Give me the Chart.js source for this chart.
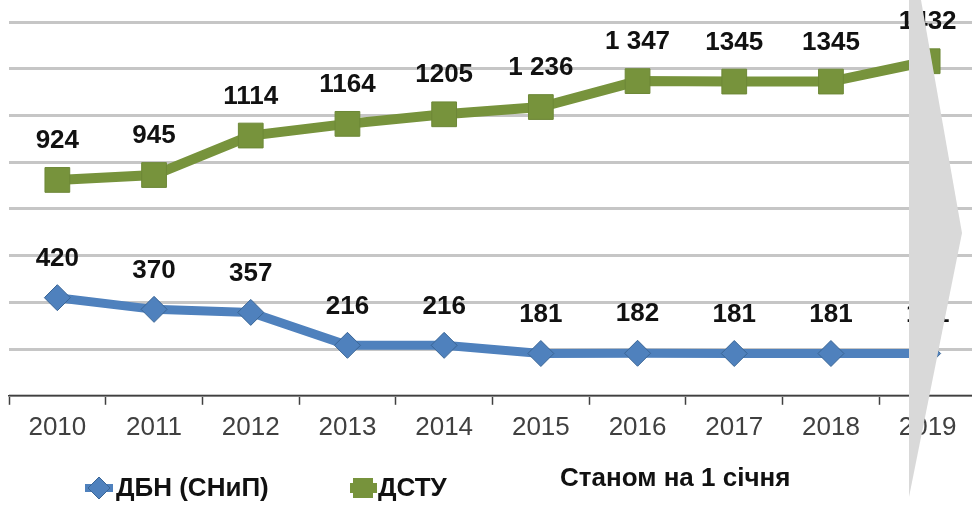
<!DOCTYPE html>
<html>
<head>
<meta charset="utf-8">
<script src="https://cdn.jsdelivr.net/npm/chart.js@4"></script>
<style>
  html, body { margin: 0; padding: 0; background: #fff; overflow: hidden; }
  #wrap { width: 976px; height: 506px; }
</style>
</head>
<body>
<div id="wrap"><canvas id="normsChart"></canvas></div>
<script>
// Years (as of 1 January)
const years = ["2010", "2011", "2012", "2013", "2014", "2015", "2016", "2017", "2018", "2019"];

// ДБН (СНиП)
const dbnValues = [420, 370, 357, 216, 216, 181, 182, 181, 181, 181];
const dbnLabels = ["420", "370", "357", "216", "216", "181", "182", "181", "181", "181"];

// ДСТУ
const dstuValues = [924, 945, 1114, 1164, 1205, 1236, 1347, 1345, 1345, 1432];
const dstuLabels = ["924", "945", "1114", "1164", "1205", "1 236", "1 347", "1345", "1345", "1432"];

const blue = "#4f81bd";
const green = "#77933c";
const FONT = "'Liberation Sans', Arial, sans-serif";

// value labels above every point
const valueLabels = {
  id: "valueLabels",
  afterDatasetsDraw(chart) {
    const ctx = chart.ctx;
    ctx.save();
    ctx.font = "bold 26px " + FONT;
    ctx.fillStyle = "#111";
    ctx.textAlign = "center";
    ctx.textBaseline = "middle";
    chart.data.datasets.forEach((ds, i) => {
      const meta = chart.getDatasetMeta(i);
      meta.data.forEach((pt, j) => {
        ctx.fillText(ds.valueText[j], pt.x, pt.y - 39);
      });
    });
    ctx.restore();
  },
};

// legend row + note + grey chevron on the right
const extras = {
  id: "extras",
  afterDraw(chart) {
    const ctx = chart.ctx;
    ctx.save();
    const ly = 488;

    // ДБН legend item
    ctx.strokeStyle = blue;
    ctx.lineWidth = 8;
    ctx.beginPath();
    ctx.moveTo(85, ly);
    ctx.lineTo(113, ly);
    ctx.stroke();
    ctx.fillStyle = blue;
    ctx.strokeStyle = "#3a6595";
    ctx.lineWidth = 1;
    ctx.beginPath();
    ctx.moveTo(99, ly - 11);
    ctx.lineTo(110, ly);
    ctx.lineTo(99, ly + 11);
    ctx.lineTo(88, ly);
    ctx.closePath();
    ctx.fill();
    ctx.stroke();

    // ДСТУ legend item
    ctx.strokeStyle = green;
    ctx.lineWidth = 10;
    ctx.beginPath();
    ctx.moveTo(350, ly);
    ctx.lineTo(377, ly);
    ctx.stroke();
    ctx.fillStyle = green;
    ctx.fillRect(353, ly - 10, 20, 20);

    ctx.font = "bold 26px " + FONT;
    ctx.fillStyle = "#111";
    ctx.textAlign = "left";
    ctx.textBaseline = "middle";
    ctx.fillText("ДБН (СНиП)", 116, ly + 1);
    ctx.fillText("ДСТУ", 378, ly + 1);
    ctx.fillText("Станом на 1 січня", 560, 479);

    // chevron shape
    ctx.fillStyle = "#d9d9d9";
    ctx.beginPath();
    ctx.moveTo(909, 0);
    ctx.lineTo(921, 0);
    ctx.lineTo(962, 233);
    ctx.lineTo(909, 497);
    ctx.closePath();
    ctx.fill();
    ctx.restore();
  },
};

new Chart(document.getElementById("normsChart").getContext("2d"), {
  type: "line",
  data: {
    labels: years,
    datasets: [
      {
        label: "ДБН (СНиП)",
        data: dbnValues,
        valueText: dbnLabels,
        borderColor: blue,
        borderWidth: 9,
        pointStyle: "rectRot",
        pointRadius: 13,
        pointBackgroundColor: blue,
        pointBorderColor: "#3a6595",
        pointBorderWidth: 1,
        tension: 0,
      },
      {
        label: "ДСТУ",
        data: dstuValues,
        valueText: dstuLabels,
        borderColor: green,
        borderWidth: 10,
        pointStyle: "rect",
        pointRadius: 17.5,
        pointBackgroundColor: green,
        pointBorderColor: "#6d8837",
        pointBorderWidth: 1,
        tension: 0,
      },
    ],
  },
  options: {
    responsive: true,
    maintainAspectRatio: false,
    animation: false,
    layout: { autoPadding: false, padding: { left: 9, right: 0, top: 22, bottom: 56 } },
    plugins: {
      legend: { display: false },
      tooltip: { enabled: false },
    },
    scales: {
      x: {
        offset: true,
        grid: {
          offset: true,
          drawOnChartArea: false,
          drawTicks: true,
          tickLength: 9,
          tickColor: "#404040",
          tickWidth: 1.5,
        },
        border: { color: "#404040", width: 1.5 },
        ticks: {
          color: "#404040",
          font: { family: FONT, size: 26 },
          padding: 7,
          maxRotation: 0,
          autoSkip: false,
        },
      },
      y: {
        min: 0,
        max: 1600,
        ticks: { display: false, stepSize: 200 },
        grid: { color: "#c6c6c6", lineWidth: 3, drawTicks: false },
        border: { display: false },
      },
    },
  },
  plugins: [valueLabels, extras],
});
</script>
</body>
</html>
